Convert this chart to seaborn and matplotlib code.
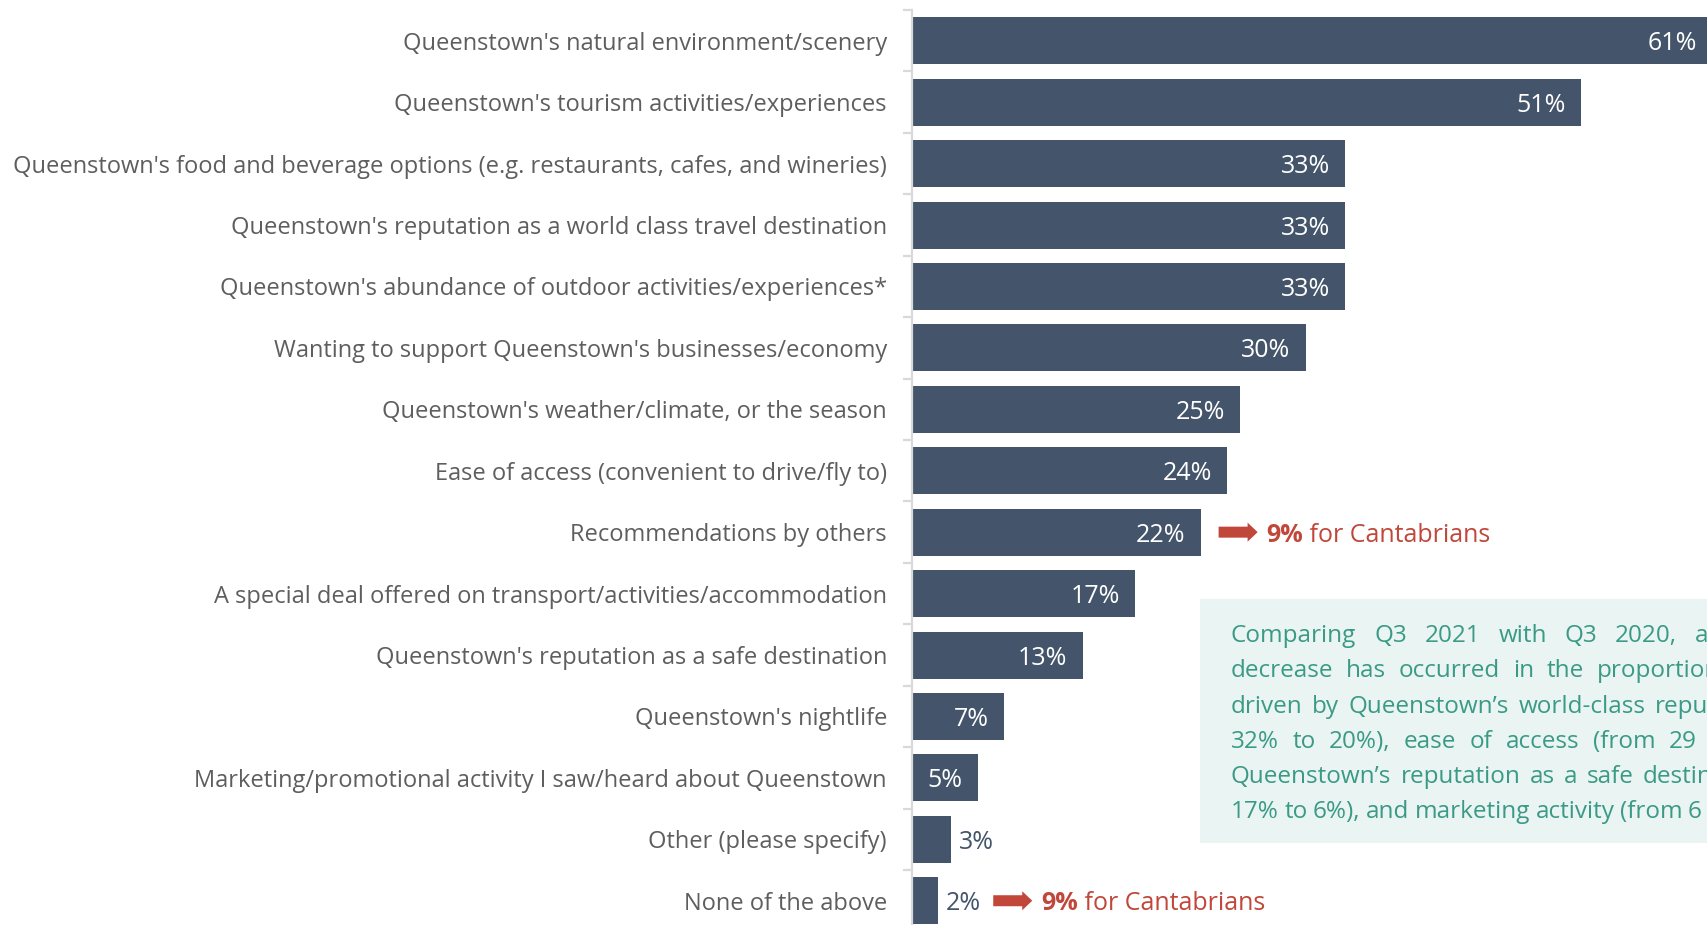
import numpy as np
import pandas as pd
import matplotlib
matplotlib.use("Agg")
import matplotlib.pyplot as plt
from matplotlib.patches import FancyArrow, Rectangle
from matplotlib.transforms import IdentityTransform
import seaborn as sns

# ---- data -------------------------------------------------------------
reasons = [
    "Queenstown's natural environment/scenery",
    "Queenstown's tourism activities/experiences",
    "Queenstown's food and beverage options (e.g. restaurants, cafes, and wineries)",
    "Queenstown's reputation as a world class travel destination",
    "Queenstown's abundance of outdoor activities/experiences*",
    "Wanting to support Queenstown's businesses/economy",
    "Queenstown's weather/climate, or the season",
    "Ease of access (convenient to drive/fly to)",
    "Recommendations by others",
    "A special deal offered on transport/activities/accommodation",
    "Queenstown's reputation as a safe destination",
    "Queenstown's nightlife",
    "Marketing/promotional activity I saw/heard about Queenstown",
    "Other (please specify)",
    "None of the above",
]
share = [61, 51, 33, 33, 33, 30, 25, 24, 22, 17, 13, 7, 5, 3, 2]

# Canterbury call-outs: (row, value shown for Cantabrians)
callout_rows = [8, 14]
callout_values = ["9%", "9%"]

note_lines = [
    "Comparing Q3 2021 with Q3 2020, a",
    "decrease has occurred in the proportion",
    "driven by Queenstown\u2019s world-class reput",
    "32% to 20%), ease of access (from 29",
    "Queenstown\u2019s reputation as a safe destin",
    "17% to 6%), and marketing activity (from 6",
]

df = pd.DataFrame({"reason": reasons, "share": share})

# ---- style ------------------------------------------------------------
BAR = "#44546A"
LABEL = "#5E5E5E"
RED = "#C0473A"
TEAL = "#3A9A86"
BOX = "#EAF4F3"
SPINE = "#D9D9D9"

sns.set_theme(style="white")
plt.rcParams["font.family"] = ["Open Sans", "DejaVu Sans"]

W, H = 1707, 925
fig = plt.figure(figsize=(W / 100, H / 100), dpi=100)
ax = fig.add_axes([912 / W, 0, 1 - 912 / W, (H - 10) / H])
ax.set_facecolor("none")

sns.barplot(data=df, x="share", y="reason", color=BAR, saturation=1,
            width=0.765, orient="h", ax=ax, linewidth=0)

ax.set_xlabel("")
ax.set_ylabel("")
ax.set_xticks([])

for s in ["top", "right", "bottom"]:
    ax.spines[s].set_visible(False)
ax.spines["left"].set_color(SPINE)
ax.spines["left"].set_linewidth(1.6)

ax.set_yticks(np.arange(len(reasons)))
ax.set_yticklabels(reasons)
ax.set_yticks(np.arange(-0.5, len(reasons) - 1, 1), minor=True)
ax.tick_params(axis="y", which="major", length=0, pad=18,
               labelsize=17, labelcolor=LABEL)
ax.tick_params(axis="y", which="minor", length=6.5, width=1.6, color=SPINE,
               left=True)

# limits last, so tick placement cannot widen them
ax.set_xlim(0, 60.6)
ax.set_ylim(14.395, -0.5)

# value labels: inside the bar when there is room, otherwise just after it
for i, v in enumerate(share):
    inside = v >= 5
    ax.annotate(f"{v}%", xy=(v, i), xytext=(-15 if inside else 8, 0),
                textcoords="offset pixels", ha="right" if inside else "left",
                va="center_baseline", color="white" if inside else BAR,
                fontsize=18, annotation_clip=False)

# red arrows with "9% for Cantabrians"
arrow_gap = {8: 18, 14: 55}
for row, val in zip(callout_rows, callout_values):
    x0, y0 = ax.transData.transform((share[row], row))
    xs = x0 + arrow_gap[row]
    arr = FancyArrow(xs, y0, 39, 0, width=11, head_width=19, head_length=10,
                     length_includes_head=True, color=RED, lw=0,
                     transform=IdentityTransform())
    fig.add_artist(arr)
    t1 = ax.annotate(val, xy=(share[row], row),
                     xytext=(arrow_gap[row] + 48, 0),
                     textcoords="offset pixels", ha="left",
                     va="center_baseline", color=RED, fontsize=18,
                     fontweight="bold", annotation_clip=False)
    ax.annotate(" for Cantabrians", xy=(1, 0), xycoords=t1, ha="left",
                va="bottom", color=RED, fontsize=18, annotation_clip=False)

# shaded commentary box (runs off the right edge)
box = Rectangle((1200 / W, 1 - 843 / H), 1 - 1200 / W + 0.01, (843 - 599) / H,
                transform=fig.transFigure, facecolor=BOX, edgecolor="none",
                zorder=1)
fig.add_artist(box)

renderer = fig.canvas.get_renderer()
line_ends = [1695, 1597, 1655, 1669, 1643, 1688]
x_left = 1231
baseline0 = 642
for k, (line, end) in enumerate(zip(note_lines, line_ends)):
    words = line.split(" ")
    ypix = H - (baseline0 + 35.3 * k)
    arts = []
    for w in words:
        t = fig.text(0, ypix / H, w, color=TEAL, fontsize=17.5,
                     ha="left", va="baseline", zorder=3)
        arts.append(t)
    widths = [a.get_window_extent(renderer).width for a in arts]
    gap = (end - x_left - sum(widths[:-1])) / max(len(words) - 1, 1)
    x = x_left
    for a, wd in zip(arts, widths):
        a.set_x(x / W)
        x += wd + gap

fig.savefig("out.png", dpi=100)
